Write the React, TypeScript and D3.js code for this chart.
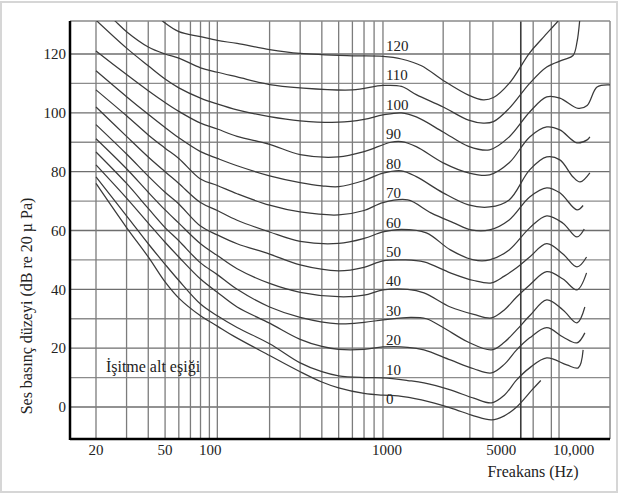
import React, { useRef, useEffect } from "react";
import * as d3 from "d3";

const W = 619;
const H = 495;
const PLOT = { left: 70, right: 610, top: 21, bottom: 439 };

// axis values
const levelTicks = [0, 20, 40, 60, 80, 100, 120];
const levelGrid = [0, 10, 20, 30, 40, 50, 60, 70, 80, 90, 100, 110, 120];
const freqGrid = [20, 30, 40, 50, 60, 70, 80, 90, 100, 200, 300, 400, 500, 600, 700, 800, 900, 2000, 2850, 3870, 5600, 6600, 8400, 9300];
const darkFreqGrid = [5600];
const freqTicks = [20, 50, 100, 1000, 5000, 10000];
const freqTickLabels = ["20", "50", "100", "1000", "5000", "10,000"];
const phonLevels = [0, 10, 20, 30, 40, 50, 60, 70, 80, 90, 100, 110, 120];

// equal loudness contours: [Hz, dB]
const phon0 = [[20, 76], [30, 61], [40, 51], [50, 42.5], [60, 37], [80, 31], [100, 27.5], [125, 24], [200, 17.5], [300, 12], [400, 8.5], [500, 6.5], [700, 4.6], [900, 4], [1100, 3.8], [1500, 2.4], [2200, -0.3], [3000, -3], [3800, -4.4], [4500, -3], [5300, 0], [6500, 5.8], [7300, 9]];
const phon10 = [[20, 78.2], [30, 65], [40, 55.5], [50, 48.5], [60, 43], [80, 35], [100, 31], [130, 27], [200, 21.5], [300, 15], [400, 12], [500, 10.6], [700, 10], [900, 9.9], [1250, 9], [1550, 8.2], [2200, 5.8], [3000, 3], [3800, 1.4], [4500, 4], [5300, 9.2], [6300, 13.3], [7900, 16.7], [10300, 14.3], [12000, 13.3], [12800, 19.4]];
const phon20 = [[20, 82.3], [30, 71], [40, 62.5], [50, 56], [60, 51], [80, 43.5], [100, 39], [130, 34], [200, 28.5], [300, 23], [400, 20.6], [500, 19.6], [700, 19.6], [900, 20.4], [1250, 20.3], [1550, 19.4], [2200, 16], [3000, 13], [3800, 11.6], [4500, 14.5], [5300, 19.4], [6300, 23.5], [7900, 27], [9800, 23.8], [11800, 21.8], [13100, 25.2]];
const phon30 = [[20, 86.7], [30, 76], [40, 67.5], [50, 61], [60, 56.5], [80, 49], [100, 45], [130, 40], [200, 34], [300, 30.5], [500, 28.3], [700, 28.8], [900, 29.6], [1300, 30.5], [1600, 30], [2000, 27], [2800, 22], [3800, 19.4], [4500, 22], [5300, 26.2], [6300, 31], [7900, 36.4], [9800, 33], [11800, 28.6], [13100, 34]];
const phon40 = [[20, 91.2], [30, 81], [40, 73], [50, 67], [60, 62.5], [80, 55.5], [100, 51.5], [130, 47], [200, 42], [300, 39], [500, 37.5], [700, 38], [900, 39.8], [1250, 40], [1550, 38.8], [2200, 34], [3000, 31.5], [3800, 30.3], [4500, 33], [5300, 37.4], [6300, 41.5], [7900, 46], [9800, 43.5], [11800, 39.8], [13400, 45.6]];
const phon50 = [[20, 96], [30, 86], [40, 78.5], [50, 73], [60, 69], [80, 61.5], [100, 58.5], [130, 55.5], [200, 52], [300, 48.3], [500, 46.3], [700, 47.5], [900, 49.7], [1200, 50], [1550, 49.3], [2200, 45.6], [3000, 43], [3800, 42.2], [4500, 44.5], [5300, 47.3], [6300, 51], [7900, 55.5], [9800, 52], [11800, 47.6], [13400, 51]];
const phon60 = [[20, 102], [30, 92], [40, 85], [50, 80], [60, 76], [80, 69.5], [100, 66.8], [130, 63.5], [200, 59.5], [300, 56.3], [500, 55.6], [700, 57.3], [900, 59.5], [1150, 60.4], [1600, 59.2], [2200, 53.4], [3000, 50], [3700, 50], [4800, 53.4], [6300, 60.9], [7900, 65], [9800, 62.5], [11800, 57.8], [13000, 60.5]];
const phon70 = [[20, 107.8], [30, 99], [40, 92.5], [50, 88], [60, 84.5], [80, 77.5], [100, 75.3], [130, 72.5], [200, 68.6], [300, 66.3], [500, 65.3], [700, 66.8], [900, 69.5], [1250, 70.4], [1700, 66], [2300, 62.6], [2900, 60.2], [3700, 60.2], [4800, 63.6], [6300, 71.4], [7900, 74.5], [9400, 72.8], [11800, 67], [12800, 68.5]];
const phon80 = [[20, 114.3], [30, 105.5], [40, 99.5], [50, 95], [60, 91.5], [80, 86.8], [100, 84.5], [130, 82], [200, 78.6], [300, 76.3], [400, 75.2], [500, 74.9], [700, 77], [900, 79.5], [1150, 80.3], [1400, 78.3], [2000, 72.8], [2800, 68.7], [3700, 68], [4800, 70.4], [6300, 80.6], [7900, 85], [9400, 84], [11200, 78.2], [12300, 76.5], [14000, 79.6]];
const phon90 = [[20, 121], [30, 113], [40, 107.5], [50, 103.5], [60, 100.5], [80, 96.5], [100, 94.5], [130, 92], [200, 89.3], [300, 85.8], [500, 85], [700, 86.8], [1000, 90], [1150, 90.2], [1400, 88.5], [2000, 83], [2800, 79.6], [3700, 78.9], [4800, 83], [6300, 91.8], [7900, 95.2], [9400, 94.2], [11800, 89.8], [13500, 90.8], [14000, 91.8]];
const phon100 = [[20, 131.5], [30, 122], [40, 116], [50, 111.5], [60, 108.5], [80, 105], [100, 103], [130, 101], [200, 98.7], [300, 97.3], [500, 96.8], [700, 97.8], [900, 99.3], [1150, 100], [1400, 98.6], [2000, 93.5], [2800, 88.6], [3700, 87.4], [4800, 91.8], [6300, 100.3], [7900, 105.4], [9400, 105], [12000, 101.5], [13500, 102.5], [15400, 108.8], [18300, 109.5]];
const phon110 = [[24, 133], [26, 131], [30, 127.6], [40, 122.4], [50, 120], [60, 118.6], [80, 115.3], [100, 113.8], [130, 112.2], [200, 109.6], [300, 108.5], [600, 107.8], [900, 109.3], [1150, 109], [1400, 106.2], [2000, 102], [2800, 97.5], [3400, 96.5], [3900, 97], [4800, 101.5], [6300, 110], [7900, 115.6], [9800, 118], [11200, 119.5], [11800, 124], [12300, 133]];
const phon120 = [[45, 133], [50, 130.5], [60, 127.6], [80, 125.9], [100, 124.6], [130, 123.6], [200, 121.5], [300, 120.2], [600, 119.4], [900, 119.2], [1150, 118.3], [1500, 116], [2000, 111], [2800, 106], [3400, 104.4], [3900, 105.2], [4800, 110], [6300, 120.4], [7500, 125.5], [9200, 131.3], [10000, 134]];

const contours = [phon0, phon10, phon20, phon30, phon40, phon50, phon60, phon70, phon80, phon90, phon100, phon110, phon120];

// label nudges (px) so tick text sits as in the printed figure
const TICK_NUDGE = [0, 0, -7, -4, -11, 9];
const FONT = "'Liberation Serif', 'Times New Roman', serif";

export default function App() {
  const ref = useRef<SVGSVGElement>(null);

  useEffect(() => {
    const svg = d3.select(ref.current);
    svg.selectAll("*").remove();

    const x = d3.scaleLog().domain([20, 10000]).range([96, 564.5]);
    const y = d3.scaleLinear().domain([0, 120]).range([407, 54]);

    svg.append("rect").attr("width", W).attr("height", H).attr("fill", "#fff");
    svg
      .append("rect")
      .attr("x", 1)
      .attr("y", 2)
      .attr("width", W - 3)
      .attr("height", 490)
      .attr("fill", "none")
      .attr("stroke", "#d6d6d6")
      .attr("stroke-width", 2);

    svg
      .append("defs")
      .append("clipPath")
      .attr("id", "plotClip")
      .append("rect")
      .attr("x", PLOT.left)
      .attr("y", PLOT.top)
      .attr("width", PLOT.right - PLOT.left)
      .attr("height", PLOT.bottom - PLOT.top);

    const grid = svg.append("g");
    grid
      .selectAll("line.h")
      .data(levelGrid)
      .join("line")
      .attr("x1", PLOT.left)
      .attr("x2", PLOT.right)
      .attr("y1", (d) => y(d))
      .attr("y2", (d) => y(d))
      .attr("stroke", (d) => (d % 20 === 0 ? "#6e6e6e" : "#8c8c8c"))
      .attr("stroke-width", 1.4);
    grid
      .selectAll("line.v")
      .data(freqGrid)
      .join("line")
      .attr("x1", (d) => x(d))
      .attr("x2", (d) => x(d))
      .attr("y1", PLOT.top)
      .attr("y2", PLOT.bottom)
      .attr("stroke", (d) => (darkFreqGrid.includes(d) ? "#3c3c3c" : "#7c7c7c"))
      .attr("stroke-width", (d) => (darkFreqGrid.includes(d) ? 1.6 : 1.3));

    // frame
    svg
      .append("line")
      .attr("x1", PLOT.left)
      .attr("x2", PLOT.right)
      .attr("y1", PLOT.top)
      .attr("y2", PLOT.top)
      .attr("stroke", "#8a8a8a")
      .attr("stroke-width", 1.5);
    svg
      .append("line")
      .attr("x1", PLOT.right)
      .attr("x2", PLOT.right)
      .attr("y1", PLOT.top)
      .attr("y2", PLOT.bottom)
      .attr("stroke", "#8a8a8a")
      .attr("stroke-width", 1.5);

    const lineGen = d3
      .line<number[]>()
      .x((d) => x(d[0]))
      .y((d) => y(d[1]))
      .curve(d3.curveCatmullRom.alpha(0.5));

    svg
      .append("g")
      .attr("clip-path", "url(#plotClip)")
      .selectAll("path")
      .data(contours)
      .join("path")
      .attr("d", (d) => lineGen(d))
      .attr("fill", "none")
      .attr("stroke", "#3a3a3a")
      .attr("stroke-width", 1.25);

    // axes
    svg
      .append("line")
      .attr("x1", PLOT.left)
      .attr("x2", PLOT.left)
      .attr("y1", PLOT.top)
      .attr("y2", PLOT.bottom + 1)
      .attr("stroke", "#000")
      .attr("stroke-width", 2.5);
    svg
      .append("line")
      .attr("x1", PLOT.left)
      .attr("x2", PLOT.right)
      .attr("y1", PLOT.bottom)
      .attr("y2", PLOT.bottom)
      .attr("stroke", "#000")
      .attr("stroke-width", 2.5);

    const text = svg
      .append("g")
      .attr("font-family", FONT)
      .attr("fill", "#222");

    text
      .selectAll("text.ytick")
      .data(levelTicks)
      .join("text")
      .attr("x", 66)
      .attr("y", (d) => y(d))
      .attr("dy", "0.35em")
      .attr("text-anchor", "end")
      .attr("font-size", 15)
      .text((d) => d);

    text
      .selectAll("text.xtick")
      .data(freqTicks)
      .join("text")
      .attr("x", (d, i) => x(d) + TICK_NUDGE[i])
      .attr("y", 455)
      .attr("text-anchor", "middle")
      .attr("font-size", 15)
      .text((d, i) => freqTickLabels[i]);

    text
      .selectAll("text.phon")
      .data(phonLevels)
      .join("text")
      .attr("x", x(1000) - 5)
      .attr("y", (d) => y(d) - 3)
      .attr("font-size", 15)
      .text((d) => d);

    text
      .append("text")
      .attr("x", x(22.8))
      .attr("y", y(12))
      .attr("font-size", 16)
      .text("İşitme alt eşiği");

    text
      .append("text")
      .attr("x", 533)
      .attr("y", 477)
      .attr("text-anchor", "middle")
      .attr("font-size", 16)
      .text("Freakans (Hz)");

    text
      .append("text")
      .attr("transform", "translate(32,306) rotate(-90)")
      .attr("text-anchor", "middle")
      .attr("font-size", 16)
      .text("Ses basınç düzeyi (dB re 20 µ Pa)");
  }, []);

  return (
    <svg
      ref={ref}
      width={W}
      height={H}
      style={{ position: "absolute", left: 0, top: 0, background: "#fff" }}
    />
  );
}
